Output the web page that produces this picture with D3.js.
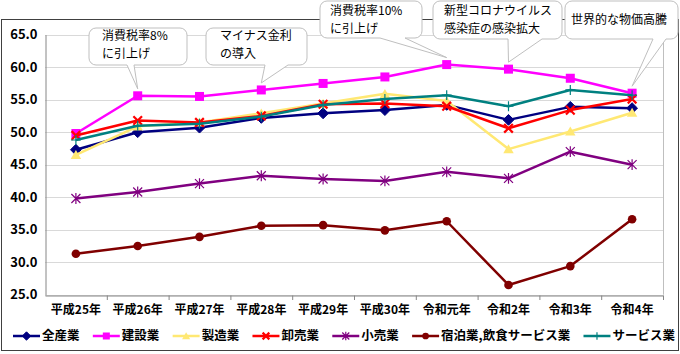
<!DOCTYPE html>
<html>
<head>
<meta charset="utf-8">
<script src="https://cdn.jsdelivr.net/npm/d3@7"></script>
<style>
  body { margin: 0; background: #fff; }
  svg { display: block; font-family: "Noto Sans CJK JP", "Noto Sans", sans-serif; }
</style>
</head>
<body>
<svg id="chart" width="680" height="354"></svg>
<script>
// 年度
const years = ["平成25年", "平成26年", "平成27年", "平成28年", "平成29年", "平成30年", "令和元年", "令和2年", "令和3年", "令和4年"];

// 系列名
const seriesNames = ["全産業", "建設業", "製造業", "卸売業", "小売業", "宿泊業,飲食サービス業", "サービス業"];

// 各系列の値
const zensangyo  = [47.3, 50.0, 50.7, 52.2, 52.9, 53.4, 54.2, 51.9, 53.9, 53.7];
const kensetsu   = [49.8, 55.6, 55.5, 56.5, 57.5, 58.5, 60.4, 59.7, 58.3, 56.0];
const seizo      = [46.5, 50.9, 51.5, 52.9, 54.4, 55.9, 54.8, 47.4, 50.1, 53.0];
const oroshiuri  = [49.5, 51.8, 51.5, 52.5, 54.3, 54.4, 54.0, 50.6, 53.4, 55.1];
const kouri      = [39.8, 40.8, 42.1, 43.3, 42.8, 42.5, 43.9, 42.9, 47.0, 45.0];
const shukuhaku  = [31.3, 32.5, 33.9, 35.6, 35.7, 34.9, 36.3, 26.5, 29.4, 36.6];
const service    = [48.8, 51.0, 51.3, 52.4, 54.2, 55.1, 55.7, 54.0, 56.5, 55.7];

const yTicks = [25, 30, 35, 40, 45, 50, 55, 60, 65];

// 吹き出し（対象の年度インデックス）
const noteTexts = [["消費税率8%", "に引上げ"], ["マイナス金利", "の導入"], ["消費税率10%", "に引上げ"], ["新型コロナウイルス", "感染症の感染拡大"], ["世界的な物価高騰"]];
const noteIndex = [1, 3, 6, 7, 9];

const allValues = [zensangyo, kensetsu, seizo, oroshiuri, kouri, shukuhaku, service];
const colors = ["#000080", "#FF00FF", "#FFE873", "#FF0000", "#800080", "#800000", "#008080"];
const markers = ["diamond", "square", "triangle", "x", "star", "circle", "plus"];

const svg = d3.select("#chart");
const margin = { left: 45, right: 17, top: 34.7, bottom: 59.3 };
const width = 680, height = 354;

const x = d3.scaleBand().domain(years).range([margin.left, width - margin.right]).padding(0);
const y = d3.scaleLinear().domain([25, 65]).range([height - margin.bottom, margin.top]);
const cx = d => x(d) + x.bandwidth() / 2;

// 外枠
svg.append("rect")
  .attr("x", 1.5).attr("y", 19.5).attr("width", 677).attr("height", 331)
  .attr("fill", "none").attr("stroke", "#404040").attr("stroke-width", 1);

// グリッド線
svg.append("g")
  .selectAll("line")
  .data(yTicks)
  .enter()
  .append("line")
  .attr("x1", margin.left).attr("x2", width - margin.right)
  .attr("y1", d => Math.round(y(d)) + 0.5).attr("y2", d => Math.round(y(d)) + 0.5)
  .attr("stroke", "#D9D9D9");

// 右側の枠
svg.append("line")
  .attr("x1", width - margin.right + 0.5).attr("x2", width - margin.right + 0.5)
  .attr("y1", y(65)).attr("y2", y(25))
  .attr("stroke", "#BFBFBF");

// Y軸
const yAxis = svg.append("g")
  .attr("transform", `translate(${margin.left + 0.5},0)`)
  .call(d3.axisLeft(y).tickValues(yTicks).tickFormat(d3.format(".1f")).tickSize(0).tickPadding(8));
yAxis.select(".domain").attr("stroke", "#868686");
yAxis.selectAll("text").attr("font-size", 13).attr("font-weight", 700).attr("fill", "#000")
  .attr("font-family", "'Noto Sans CJK JP', sans-serif");

// X軸
const xAxis = svg.append("g")
  .attr("transform", `translate(0,${Math.round(y(25)) + 0.5})`)
  .call(d3.axisBottom(x).tickSize(0).tickPadding(10));
xAxis.select(".domain").attr("stroke", "#868686");
xAxis.selectAll("text").attr("font-size", 12).attr("font-weight", 700).attr("fill", "#000")
  .attr("font-family", "'Noto Sans CJK JP', sans-serif");

// 区切りの目盛り
svg.append("g")
  .selectAll("line")
  .data(years.slice(1).concat([null]))
  .enter()
  .append("line")
  .attr("x1", d => (d ? x(d) : width - margin.right) + 0.5)
  .attr("x2", d => (d ? x(d) : width - margin.right) + 0.5)
  .attr("y1", Math.round(y(25)) + 0.5).attr("y2", Math.round(y(25)) + 5)
  .attr("stroke", "#868686");

// マーカー
function drawMarker(g, type, px, py, color, s) {
  if (type === "diamond") {
    g.append("path").attr("d", `M${px},${py - s * 0.6}L${px + s * 0.6},${py}L${px},${py + s * 0.6}L${px - s * 0.6},${py}Z`)
      .attr("fill", color).attr("stroke", color);
  } else if (type === "square") {
    g.append("rect").attr("x", px - s / 2).attr("y", py - s / 2).attr("width", s).attr("height", s)
      .attr("fill", color);
  } else if (type === "triangle") {
    g.append("path").attr("d", `M${px},${py - s * 0.55}L${px + s * 0.58},${py + s * 0.45}L${px - s * 0.58},${py + s * 0.45}Z`)
      .attr("fill", color);
  } else if (type === "x") {
    const h = s * 0.48;
    g.append("path").attr("d", `M${px - h},${py - h}L${px + h},${py + h}M${px - h},${py + h}L${px + h},${py - h}`)
      .attr("stroke", color).attr("stroke-width", 2.2).attr("fill", "none");
  } else if (type === "star") {
    const h = s * 0.5;
    g.append("path").attr("d", `M${px - h},${py - h}L${px + h},${py + h}M${px - h},${py + h}L${px + h},${py - h}M${px},${py - h * 1.2}L${px},${py + h * 1.2}`)
      .attr("stroke", color).attr("stroke-width", 1.2).attr("fill", "none");
  } else if (type === "circle") {
    g.append("circle").attr("cx", px).attr("cy", py).attr("r", s * 0.48).attr("fill", color);
  } else if (type === "plus") {
    const h = s * 0.55;
    g.append("path").attr("d", `M${px - h},${py}L${px + h},${py}M${px},${py - h}L${px},${py + h}`)
      .attr("stroke", color).attr("stroke-width", 1.2).attr("fill", "none");
  }
}

const line = d3.line().x((d, i) => cx(years[i])).y(d => y(d));

allValues.forEach((vals, k) => {
  const g = svg.append("g");
  g.append("path")
    .datum(vals)
    .attr("d", line)
    .attr("fill", "none")
    .attr("stroke", colors[k])
    .attr("stroke-width", 2.5)
    .attr("stroke-linejoin", "round");
  vals.forEach((v, i) => drawMarker(g, markers[k], cx(years[i]), y(v), colors[k], 9));
});

// 凡例（文字幅を測ってから左端13〜右端675に並べる）
const legend = svg.append("g").attr("transform", "translate(0,336)");
const lineLen = 27, textGap = 2;
const labels = seriesNames.map(name => legend.append("text")
  .attr("y", 0).attr("dy", "0.35em")
  .attr("font-size", 12.5).attr("font-weight", 700).attr("fill", "#000")
  .text(name));
const widths = labels.map(t => t.node().getComputedTextLength());
const used = d3.sum(widths) + seriesNames.length * (lineLen + textGap);
const gap = (675 - 13 - used) / (seriesNames.length - 1);
let lx = 13;
seriesNames.forEach((name, k) => {
  legend.append("line").attr("x1", lx).attr("x2", lx + lineLen).attr("y1", 0).attr("y2", 0)
    .attr("stroke", colors[k]).attr("stroke-width", 2.5);
  drawMarker(legend, markers[k], lx + lineLen / 2, 0, colors[k], 7);
  labels[k].attr("x", lx + lineLen + textGap);
  lx += lineLen + textGap + widths[k] + gap;
});

// 吹き出しの配置
const noteLayout = [
  { x: 89, y: 28, w: 98, h: 37, tx: 102, ty: [36, 53.5], base: [127, 134] },
  { x: 206, y: 28, w: 101, h: 37, tx: 220, ty: [36, 53.5], base: [265, 288] },
  { x: 320, y: 1, w: 102, h: 37, tx: 330, ty: [11, 28.5], base: [380, 405] },
  { x: 433, y: 1, w: 129, h: 38, tx: 444, ty: [11, 28.5], base: [508, 542] },
  { x: 565, y: 1, w: 113, h: 38, tx: 571, ty: [20], base: [653, 666] }
];

const notes = svg.append("g");
noteTexts.forEach((lines, n) => {
  const L = noteLayout[n];
  const i = noteIndex[n];
  const tipX = cx(years[i]);
  const tipY = y(kensetsu[i]) - 7;
  const r = 7;
  const b = L.y + L.h;
  const p = d3.path();
  p.moveTo(L.x + r, L.y);
  p.lineTo(L.x + L.w - r, L.y);
  p.arcTo(L.x + L.w, L.y, L.x + L.w, L.y + r, r);
  p.lineTo(L.x + L.w, b - r);
  p.arcTo(L.x + L.w, b, L.x + L.w - r, b, r);
  p.lineTo(L.base[1], b);
  p.lineTo(tipX, tipY);
  p.lineTo(L.base[0], b);
  p.lineTo(L.x + r, b);
  p.arcTo(L.x, b, L.x, b - r, r);
  p.lineTo(L.x, L.y + r);
  p.arcTo(L.x, L.y, L.x + r, L.y, r);
  p.closePath();
  notes.append("path").attr("d", p.toString())
    .attr("fill", "#fff").attr("stroke", "#BFBFBF").attr("stroke-width", 1);
  lines.forEach((s, j) => {
    notes.append("text")
      .attr("x", L.tx).attr("y", L.ty[j]).attr("dy", "0.35em")
      .attr("font-size", 12).attr("fill", "#000")
      .text(s);
  });
});
</script>
</body>
</html>
